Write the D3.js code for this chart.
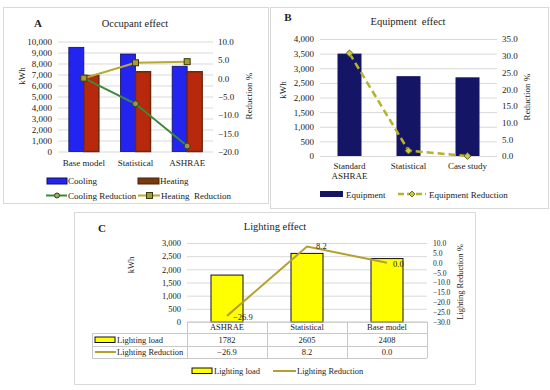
<!DOCTYPE html>
<html>
<head>
<meta charset="utf-8">
<script src="https://cdn.jsdelivr.net/npm/d3@7"></script>
<style>
  body { margin: 0; background: #fff; }
  svg, svg text { font-family: "Liberation Serif", "Times New Roman", serif; }
  .tick line { stroke: #d9d9d9; }
</style>
</head>
<body>
<div id="chart"></div>
<script>
/* Panel A - occupant effect */
const occCategories = ["Base model", "Statistical", "ASHRAE"];
const occCooling = [9470, 8860, 7750];
const occHeating = [6900, 7250, 7250];
const occCoolRed = [0.0, -7.0, -18.5];
const occHeatRed = [0.0, 4.2, 4.5];
const occKwhTicks = [0, 1000, 2000, 3000, 4000, 5000, 6000, 7000, 8000, 9000, 10000];
const occRedTicks = [-20, -15, -10, -5, 0, 5, 10];

/* Panel B - equipment effect */
const equipCategories = ["Standard ASHRAE", "Statistical", "Case study"];
const equipLoad = [3500, 2730, 2690];
const equipRed = [30.7, 1.6, 0.0];
const equipKwhTicks = [0, 500, 1000, 1500, 2000, 2500, 3000, 3500, 4000];
const equipRedTicks = [0, 5, 10, 15, 20, 25, 30, 35];

/* Panel C - lighting effect */
const lightCategories = ["ASHRAE", "Statistical", "Base model"];
const lightLoad = [1782, 2605, 2408];
const lightRed = [-26.9, 8.2, 0.0];
const lightKwhTicks = [0, 500, 1000, 1500, 2000, 2500, 3000];
const lightRedTicks = [-30, -25, -20, -15, -10, -5, 0, 5, 10];

const W = 550, H = 390;
const FONT = "Liberation Serif, Times New Roman, serif";
const fmtK = d3.format(",");
const fmt1 = d3.format(".1f");

const svg = d3.select("#chart").append("svg")
  .attr("width", W).attr("height", H)
  .attr("font-family", FONT);

/* panel frames */
function frame(x, y, w, h) {
  svg.append("rect").attr("x", x + 0.5).attr("y", y + 0.5)
    .attr("width", w).attr("height", h)
    .attr("fill", "#fff").attr("stroke", "#d9d9d9");
}
frame(3, 7, 265, 196);
frame(270, 7, 278, 201);
frame(74, 212, 401, 172);

function label(g, x, y, txt, opts) {
  opts = opts || {};
  const t = g.append("text").attr("x", x).attr("y", y)
    .attr("font-family", FONT)
    .attr("font-size", opts.size || 9)
    .attr("text-anchor", opts.anchor || "middle")
    .attr("dy", "0.35em")
    .attr("fill", "#222")
    .text(txt);
  if (opts.bold) t.attr("font-weight", "bold");
  if (opts.rotate) t.attr("transform", "rotate(-90," + x + "," + y + ")");
  return t;
}

function leftAxis(g, y, x0, x1, ticks, fmt, size) {
  g.append("g").attr("transform", "translate(" + x0 + ",0)")
    .call(d3.axisLeft(y).tickValues(ticks).tickFormat(fmt)
      .tickSize(-(x1 - x0)).tickPadding(6))
    .attr("font-family", FONT)
    .call(a => a.select(".domain").remove())
    .call(a => a.selectAll("text").attr("font-size", size || 9).attr("fill", "#222")
      .attr("font-family", FONT));
}
function rightAxis(g, y, x1, ticks, fmt, size) {
  g.append("g").attr("transform", "translate(" + x1 + ",0)")
    .call(d3.axisRight(y).tickValues(ticks).tickFormat(fmt)
      .tickSize(0).tickPadding(5))
    .attr("font-family", FONT)
    .call(a => a.select(".domain").remove())
    .call(a => a.selectAll("text").attr("font-size", size || 9).attr("fill", "#222")
      .attr("font-family", FONT));
}

/* ---------------- Panel A ---------------- */
{
  const g = svg.append("g");
  const x0 = 58, x1 = 213, yTop = 41.5, yBot = 151.5;
  const x = d3.scaleBand().domain(occCategories).range([x0, x1]);
  const y = d3.scaleLinear().domain([0, 10000]).range([yBot, yTop]);
  const yr = d3.scaleLinear().domain([-20, 10]).range([yBot, yTop]);
  const sub = d3.scaleBand().domain(["c", "h"]).range([0, 30]);

  leftAxis(g, y, x0, x1, occKwhTicks, fmtK);
  rightAxis(g, yr, x1, occRedTicks, fmt1);

  g.selectAll(".cool").data(occCooling).enter().append("rect")
    .attr("x", (d, i) => x(occCategories[i]) + x.bandwidth() / 2 - 15 + sub("c"))
    .attr("y", d => y(d)).attr("width", sub.bandwidth())
    .attr("height", d => yBot - y(d))
    .attr("fill", "#2424f0").attr("stroke", "#10105a").attr("stroke-width", 0.8);
  g.selectAll(".heat").data(occHeating).enter().append("rect")
    .attr("x", (d, i) => x(occCategories[i]) + x.bandwidth() / 2 - 15 + sub("h"))
    .attr("y", d => y(d)).attr("width", sub.bandwidth())
    .attr("height", d => yBot - y(d))
    .attr("fill", "#b8280c").attr("stroke", "#6b2a0a").attr("stroke-width", 1.5);

  const cx = (d, i) => x(occCategories[i]) + x.bandwidth() / 2;
  const line = d3.line().x(cx).y(d => yr(d));

  g.append("path").datum(occCoolRed).attr("d", line)
    .attr("fill", "none").attr("stroke", "#3a8a3a").attr("stroke-width", 2);
  g.append("path").datum(occHeatRed).attr("d", line)
    .attr("fill", "none").attr("stroke", "#b8aa30").attr("stroke-width", 2);

  g.selectAll(".cm").data(occCoolRed).enter().append("circle")
    .attr("cx", cx).attr("cy", d => yr(d)).attr("r", 3)
    .attr("fill", "#a88a55").attr("stroke", "#1e4a1e").attr("stroke-width", 1);
  g.selectAll(".hm").data(occHeatRed).enter().append("rect")
    .attr("x", (d, i) => cx(d, i) - 3).attr("y", d => yr(d) - 3)
    .attr("width", 6).attr("height", 6)
    .attr("fill", "#a89b32").attr("stroke", "#3a3a10").attr("stroke-width", 1);

  occCategories.forEach(c => label(g, x(c) + x.bandwidth() / 2, 162.5, c));

  label(g, 38, 23, "A", {size: 11, bold: true});
  label(g, 135, 23, "Occupant effect", {size: 10.5});
  label(g, 22, 76, "kWh", {rotate: true});
  label(g, 249, 96, "Reduction %", {rotate: true});

  // legend
  g.append("rect").attr("x", 47).attr("y", 178).attr("width", 20).attr("height", 6)
    .attr("fill", "#2424f0").attr("stroke", "#10105a");
  label(g, 68, 181, "Cooling", {anchor: "start"});
  g.append("rect").attr("x", 138).attr("y", 178).attr("width", 21).attr("height", 6)
    .attr("fill", "#7a3a0c").attr("stroke", "#4a200a");
  label(g, 160, 181, "Heating", {anchor: "start"});
  g.append("line").attr("x1", 46).attr("x2", 67).attr("y1", 195.5).attr("y2", 195.5)
    .attr("stroke", "#3a8a3a").attr("stroke-width", 2);
  g.append("circle").attr("cx", 57).attr("cy", 195.5).attr("r", 2.5)
    .attr("fill", "#a8a860").attr("stroke", "#1e4a1e");
  label(g, 68, 196, "Cooling Reduction", {anchor: "start"});
  g.append("line").attr("x1", 138).attr("x2", 160).attr("y1", 195.5).attr("y2", 195.5)
    .attr("stroke", "#b8aa30").attr("stroke-width", 2);
  g.append("rect").attr("x", 146.5).attr("y", 192.5).attr("width", 6).attr("height", 6)
    .attr("fill", "#a89b32").attr("stroke", "#3a3a10");
  label(g, 161, 196, "Heating  Reduction", {anchor: "start"}).style("white-space", "pre");
}

/* ---------------- Panel B ---------------- */
{
  const g = svg.append("g");
  const x0 = 320, x1 = 497, yTop = 39, yBot = 156;
  const xc = d3.scaleBand().domain(equipCategories).range([x0, x1]);
  const y = d3.scaleLinear().domain([0, 4000]).range([yBot, yTop]);
  const yr = d3.scaleLinear().domain([0, 35]).range([yBot, yTop]);

  leftAxis(g, y, x0, x1, equipKwhTicks, fmtK);
  rightAxis(g, yr, x1, equipRedTicks, fmt1);

  g.selectAll(".eb").data(equipLoad).enter().append("rect")
    .attr("x", (d, i) => xc(equipCategories[i]) + xc.bandwidth() / 2 - 12)
    .attr("y", d => y(d)).attr("width", 24)
    .attr("height", d => yBot - y(d))
    .attr("fill", "#151565");

  const cx = (d, i) => xc(equipCategories[i]) + xc.bandwidth() / 2;
  g.append("path").datum(equipRed)
    .attr("d", d3.line().x(cx).y(d => yr(d)))
    .attr("fill", "none").attr("stroke", "#b5b22c").attr("stroke-width", 2.5)
    .attr("stroke-dasharray", "7,4");
  g.selectAll(".em").data(equipRed).enter().append("path")
    .attr("d", d3.symbol(d3.symbolDiamond2, 30))
    .attr("transform", (d, i) => "translate(" + cx(d, i) + "," + yr(d) + ")")
    .attr("fill", "#c8c84a").attr("stroke", "#6a6a20").attr("stroke-width", 1);

  equipCategories.forEach(c => {
    const parts = c === "Standard ASHRAE" ? ["Standard", "ASHRAE"] : [c];
    parts.forEach((p, k) => label(g, xc(c) + xc.bandwidth() / 2, 166 + k * 10, p));
  });

  label(g, 288, 17, "B", {size: 11, bold: true});
  label(g, 408, 21, "Equipment  effect", {size: 10.5}).style("white-space", "pre");
  label(g, 283, 90, "kWh", {rotate: true});
  label(g, 527, 97, "Reduction %", {rotate: true});

  g.append("rect").attr("x", 320).attr("y", 191).attr("width", 23).attr("height", 6)
    .attr("fill", "#151565");
  label(g, 346, 194.5, "Equipment", {anchor: "start"});
  g.append("line").attr("x1", 398).attr("x2", 426).attr("y1", 194).attr("y2", 194)
    .attr("stroke", "#b5b22c").attr("stroke-width", 2.5).attr("stroke-dasharray", "6,3");
  g.append("path").attr("d", d3.symbol(d3.symbolDiamond2, 22))
    .attr("transform", "translate(412,194)")
    .attr("fill", "#c8c84a").attr("stroke", "#6a6a20");
  label(g, 429, 194.5, "Equipment Reduction", {anchor: "start"});
}

/* ---------------- Panel C ---------------- */
{
  const g = svg.append("g");
  const x0 = 187, x1 = 427, yTop = 243, yBot = 322;
  const x = d3.scaleBand().domain(lightCategories).range([x0, x1]);
  const y = d3.scaleLinear().domain([0, 3000]).range([yBot, yTop]);
  const yr = d3.scaleLinear().domain([-30, 10]).range([yBot, yTop]);

  leftAxis(g, y, x0, x1, lightKwhTicks, fmtK, 8.5);
  rightAxis(g, yr, x1 + 1, lightRedTicks, fmt1, 7.5);

  const cx = (d, i) => x(lightCategories[i]) + x.bandwidth() / 2;
  g.selectAll(".lb").data(lightLoad).enter().append("rect")
    .attr("x", (d, i) => cx(d, i) - 16)
    .attr("y", d => y(d)).attr("width", 32)
    .attr("height", d => yBot - y(d))
    .attr("fill", "#ffff00").attr("stroke", "#111").attr("stroke-width", 1);

  g.append("path").datum(lightRed)
    .attr("d", d3.line().x(cx).y(d => yr(d)))
    .attr("fill", "none").attr("stroke", "#b5a02c").attr("stroke-width", 2);

  g.selectAll(".ll").data(lightRed).enter().append("text")
    .attr("x", (d, i) => cx(d, i) + (i === 1 ? 9 : 6))
    .attr("y", (d, i) => yr(d) + (i === 1 ? -1 : 1))
    .attr("dy", "0.35em").attr("font-size", 8.5).attr("fill", "#222")
    .attr("font-family", FONT)
    .text(d => fmt1(d));

  // data table
  const tl = 92, rows = [322, 333, 346, 358];
  const tg = g.append("g").attr("stroke", "#c8c8c8").attr("stroke-width", 1);
  tg.append("line").attr("x1", x0).attr("x2", x1).attr("y1", rows[0]).attr("y2", rows[0]);
  [1, 2, 3].forEach(r => tg.append("line").attr("x1", tl).attr("x2", x1)
    .attr("y1", rows[r] + 0.5).attr("y2", rows[r] + 0.5));
  tg.append("line").attr("x1", tl + 0.5).attr("x2", tl + 0.5).attr("y1", rows[1]).attr("y2", rows[3]);
  lightCategories.forEach(c => {
    tg.append("line").attr("x1", x(c) + 0.5).attr("x2", x(c) + 0.5).attr("y1", rows[0]).attr("y2", rows[3]);
  });
  tg.append("line").attr("x1", x1 + 0.5).attr("x2", x1 + 0.5).attr("y1", rows[0]).attr("y2", rows[3]);

  lightCategories.forEach((c, i) => {
    label(g, cx(0, i), 327.5, c, {size: 8.5});
    label(g, cx(0, i), 340, String(lightLoad[i]), {size: 8.5});
    label(g, cx(0, i), 352.5, fmt1(lightRed[i]), {size: 8.5});
  });
  g.append("rect").attr("x", 95).attr("y", 337).attr("width", 20).attr("height", 5.5)
    .attr("fill", "#ffff00").attr("stroke", "#111");
  label(g, 117, 340, "Lighting load", {anchor: "start", size: 8.5});
  g.append("line").attr("x1", 95).attr("x2", 116).attr("y1", 352).attr("y2", 352)
    .attr("stroke", "#b5a02c").attr("stroke-width", 2);
  label(g, 117, 352.5, "Lighting Reduction", {anchor: "start", size: 8.5});

  label(g, 102, 228, "C", {size: 11, bold: true});
  label(g, 275, 226, "Lighting effect", {size: 10.5});
  label(g, 131, 265, "kWh", {rotate: true, size: 8.5});
  label(g, 460, 282, "Lighting Reduction %", {rotate: true, size: 8.5});

  // legend
  g.append("rect").attr("x", 192).attr("y", 368).attr("width", 20).attr("height", 5.5)
    .attr("fill", "#ffff00").attr("stroke", "#111");
  label(g, 214, 371, "Lighting load", {anchor: "start", size: 8.5});
  g.append("line").attr("x1", 273).attr("x2", 296).attr("y1", 371).attr("y2", 371)
    .attr("stroke", "#b5a02c").attr("stroke-width", 2);
  label(g, 297, 371, "Lighting Reduction", {anchor: "start", size: 8.5});
}
</script>
</body>
</html>
